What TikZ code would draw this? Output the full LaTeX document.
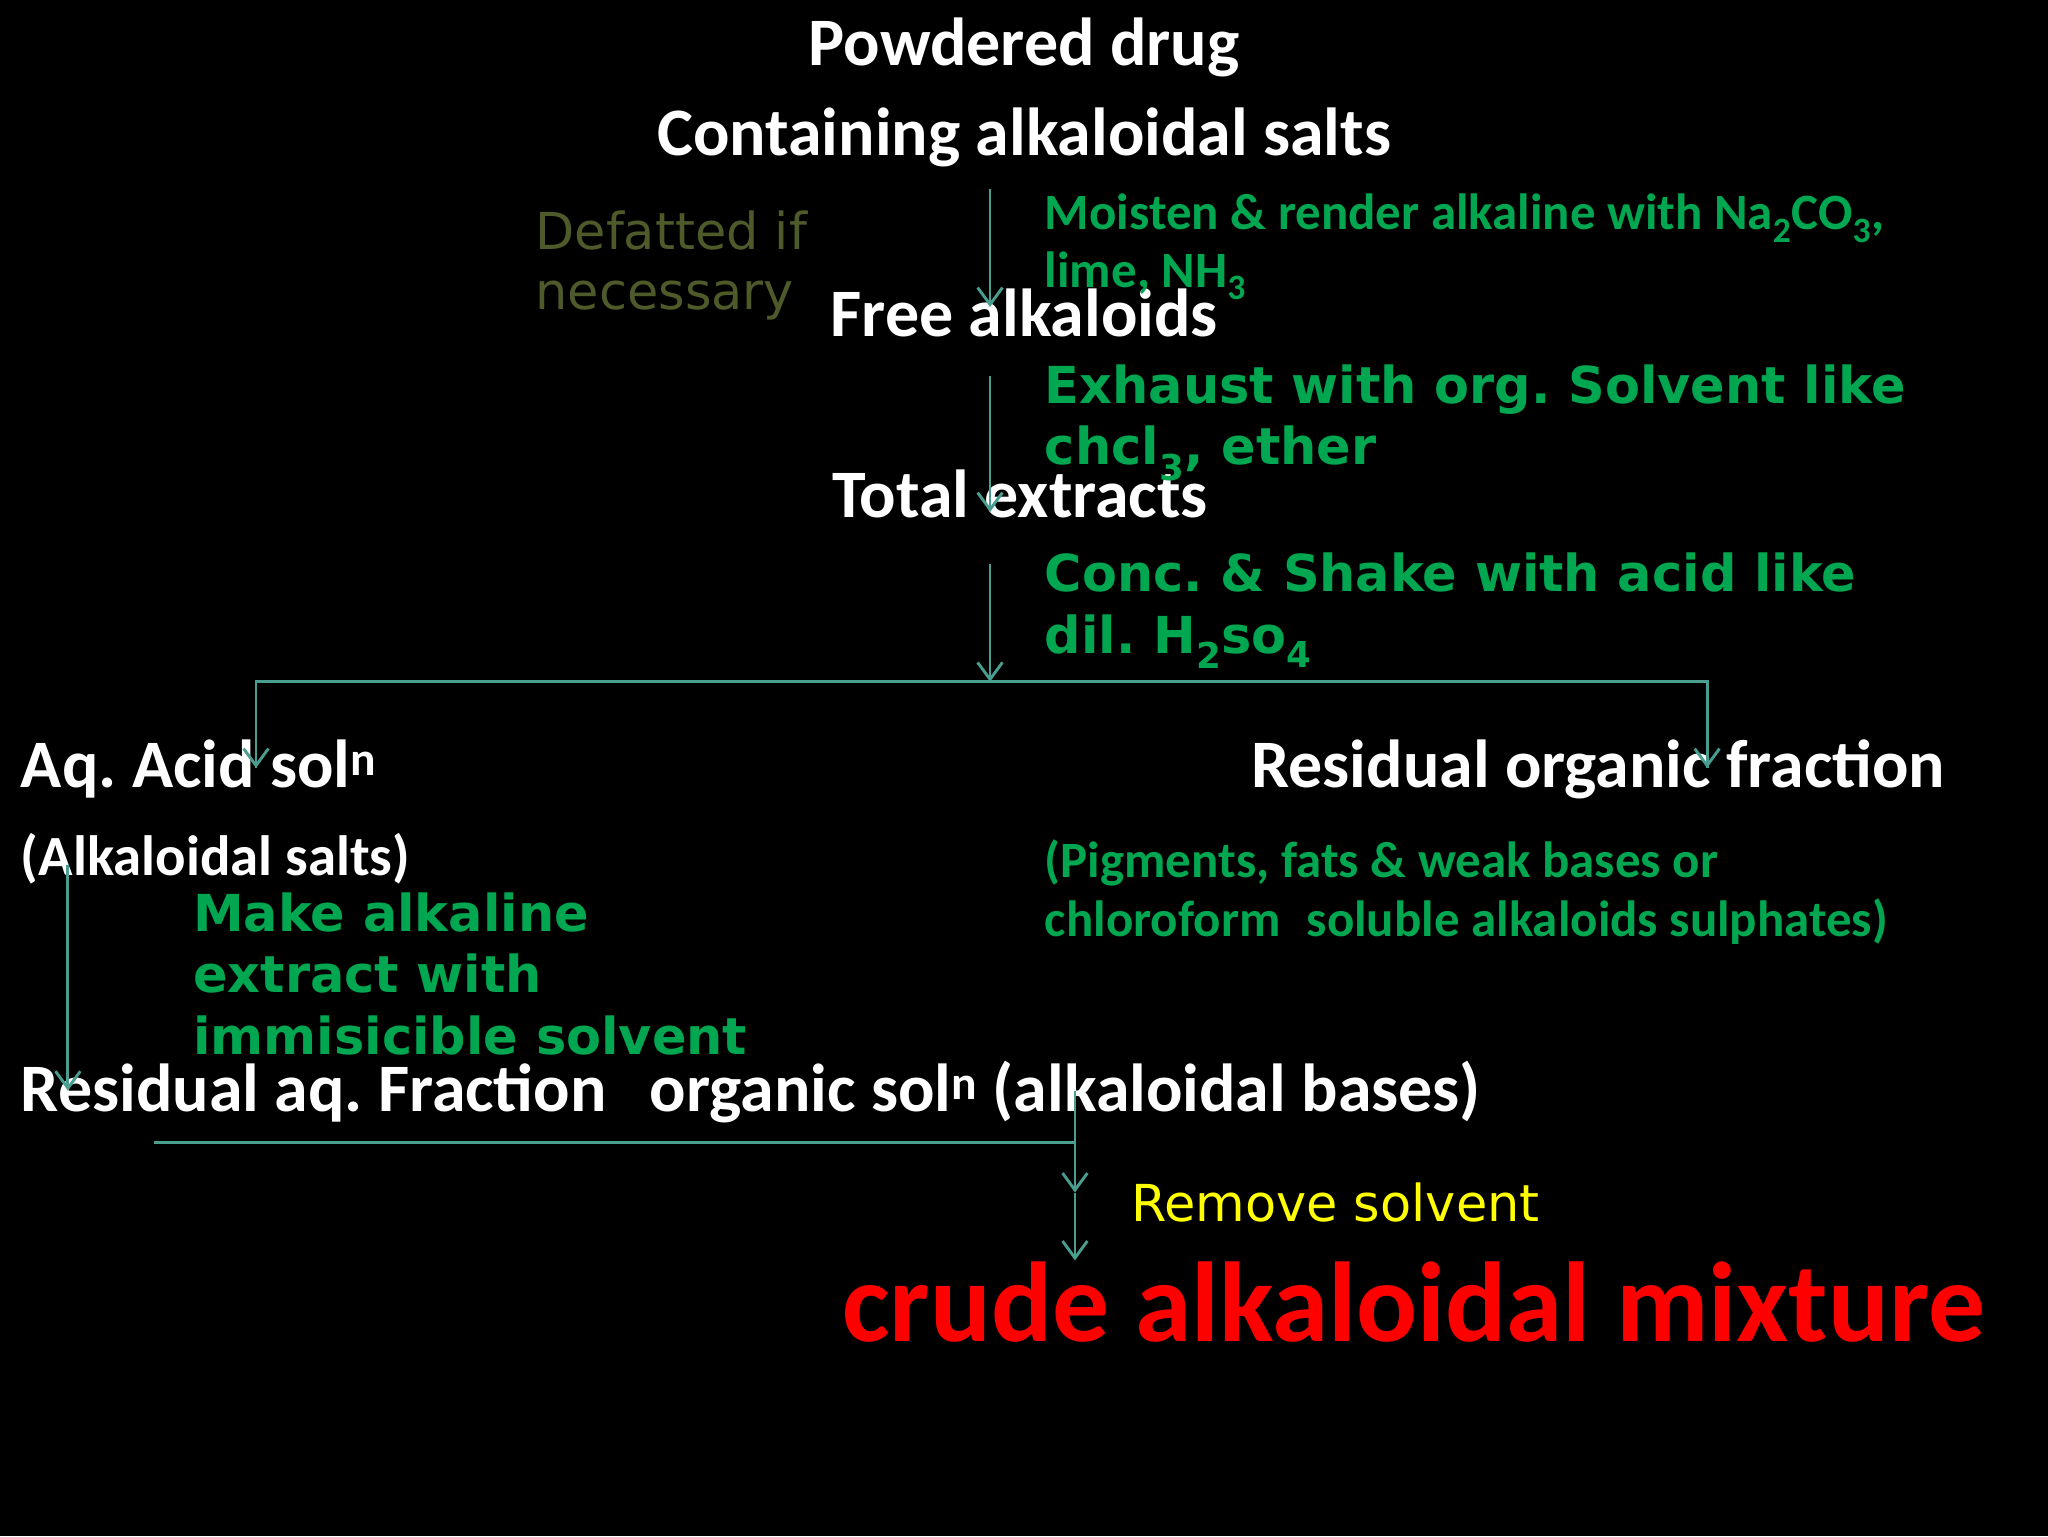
\documentclass[tikz,border=0pt]{standalone}
\usepackage{fontspec}
\setmainfont{Carlito}
\newfontfamily\verd{DejaVu Sans}
\usetikzlibrary{arrows.meta}
\frenchspacing
\definecolor{lnc}{HTML}{4A9E90}
\definecolor{grn}{HTML}{00A650}
\definecolor{olv}{HTML}{4F5A2A}
\definecolor{yel}{HTML}{FFFF00}
\definecolor{rd}{HTML}{FF0000}
\tikzset{
  txt/.style={inner sep=0pt, outer sep=0pt, anchor=base west},
  wmain/.style={txt, text=white, font=\fontsize{52}{60}\selectfont\bfseries},
  wsmall/.style={txt, text=white, font=\fontsize{43.5}{50}\selectfont\bfseries},
  gcal/.style={txt, text=grn, font=\fontsize{39}{45}\selectfont\bfseries},
  gver/.style={txt, text=grn, font=\verd\fontsize{39}{47}\selectfont\bfseries},
  olive/.style={txt, text=olv, font=\verd\fontsize{39}{46}\selectfont},
  yell/.style={txt, text=yel, font=\verd\fontsize{39}{46}\selectfont},
  redbig/.style={txt, text=rd, font=\fontsize{87}{95}\selectfont\bfseries},
  conn/.style={draw=lnc, line width=2.2pt},
  arr/.style={conn, -{Straight Barb[length=13pt,width=19pt,line width=2.2pt]}},
}
\begin{document}
\begin{tikzpicture}[x=1pt,y=-1pt]
\fill[black] (0,0) rectangle (1568,1176);
\useasboundingbox (0,0) rectangle (1568,1176);

% main white texts
\node[wmain, anchor=base] (pd) at (784,50) {Powdered drug};
\node[wmain, anchor=base] (cas) at (784,119) {Containing alkaloidal salts};
\node[wmain] (fa) at (636,258) {Free alkaloids};
\node[wmain] (te) at (637,396) {Total extracts};
\node[wmain] (aq) at (16,603) {Aq. Acid sol\textsuperscript{n}};
\node[wmain] (rof) at (958,603) {Residual organic fraction};
\node[wsmall] (als) at (16,670) {(Alkaloidal salts)};
\node[wmain] (raf) at (16,851) {Residual aq. Fraction\hspace{33pt}organic sol\textsuperscript{n} (alkaloidal bases)};

% side notes
\node[olive] (def1) at (410,191) {Defatted if};
\node[olive] (def2) at (410,237) {necessary};
\node[gcal] (m1) at (800,176) {Moisten \& render alkaline with Na\textsubscript{2}CO\textsubscript{3},};
\node[gcal] (m2) at (800,220) {lime, NH\textsubscript{3}};
\node[gver] (e1) at (800,309) {Exhaust with org. Solvent like};
\node[gver] (e2) at (800,356) {chcl\textsubscript{3}, ether};
\node[gver] (c1) at (800,453) {Conc. \& Shake with acid like};
\node[gver] (c2) at (800,500) {dil. H\textsubscript{2}so\textsubscript{4}};
\node[gcal] (p1) at (800,672) {(Pigments, fats \& weak bases or};
\node[gcal] (p2) at (800,717) {chloroform\hspace{20pt}soluble alkaloids sulphates)};
\node[gver] (k1) at (148,713) {Make alkaline};
\node[gver] (k2) at (148,760) {extract with};
\node[gver] (k3) at (148,807) {immisicible solvent};
\node[yell] (rs) at (866,935) {Remove solvent};
\node[redbig] (crude) at (645,1027) {crude alkaloidal mixture};

% connector points
\coordinate (a1s) at (758,145);
\coordinate (a1e) at (758,235);
\coordinate (a2s) at (758,288);
\coordinate (a2e) at (758,392);
\coordinate (a3s) at (758,432);
\coordinate (a3e) at (758,522);
\coordinate (hl) at (196,522);
\coordinate (hr) at (1307,522);
\coordinate (hle) at (196,588);
\coordinate (hre) at (1307,588);
\coordinate (ls) at (52,662);
\coordinate (le) at (52,835);
\coordinate (bl) at (118,875);
\coordinate (bs) at (823,835);
\coordinate (bm) at (823,875);
\coordinate (bmid) at (823,913);
\coordinate (bend) at (823,965);

\draw[arr] (a1s) -- (a1e);
\draw[arr] (a2s) -- (a2e);
\draw[arr] (a3s) -- (a3e);
\draw[conn] (hle) -- (hl) -- (hr) -- (hre);
\draw[arr] (hl) -- (hle);
\draw[arr] (hr) -- (hre);
\draw[arr] (ls) -- (le);
\draw[conn] (bl) -- (bm);
\draw[arr] (bs) -- (bmid);
\draw[arr] (bmid) -- (bend);
\end{tikzpicture}
\end{document}
